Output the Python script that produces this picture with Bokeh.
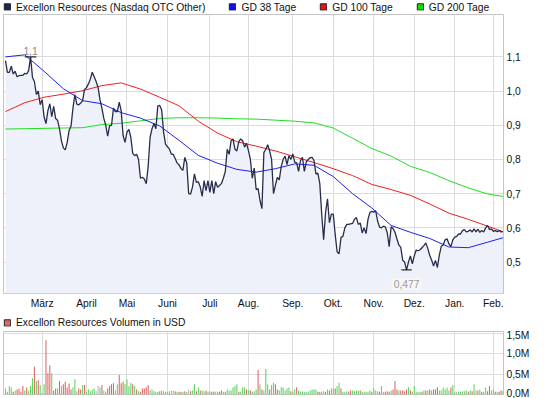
import numpy as np
import pandas as pd
from bokeh.plotting import figure
from bokeh.layouts import column
from bokeh.models import (Range1d, FixedTicker, Legend, LegendItem, Label,
                          CustomJSTickFormatter, Grid)
from bokeh.embed import file_html
from bokeh.resources import INLINE

# ---------------- data ----------------
start_date = "2011-02-01"
end_date = "2012-02-08"
holidays = ["2011-02-21", "2011-05-30", "2011-07-04", "2011-09-05",
            "2011-11-24", "2011-12-26", "2012-01-02", "2012-01-16"]

price = [
    1.089, 1.055, 1.055, 1.073, 1.050, 1.058, 1.042, 1.045, 1.046, 1.046,
    1.052, 1.050, 1.060, 1.100, 1.040, 1.028, 0.990, 1.000, 0.960, 0.975,
    0.925, 0.905, 0.943, 0.963, 0.925, 0.955, 0.920, 0.915, 0.890, 0.855,
    0.834, 0.828, 0.850, 0.885, 0.898, 0.950, 0.990, 0.962, 0.960, 0.965,
    0.972, 1.005, 1.010, 1.021, 1.035, 1.055, 1.042, 1.028, 1.011, 0.975,
    0.950, 0.920, 0.900, 0.868, 0.899, 0.900, 0.950, 0.940, 0.940, 0.968,
    0.942, 0.870, 0.850, 0.880, 0.888, 0.865, 0.818, 0.811, 0.815, 0.800,
    0.745, 0.748, 0.743, 0.729, 0.780, 0.865, 0.890, 0.905, 0.890, 0.957,
    0.958, 0.945, 0.880, 0.845, 0.837, 0.831, 0.816, 0.815, 0.803, 0.790,
    0.784, 0.774, 0.768, 0.806, 0.790, 0.700, 0.699, 0.720, 0.758, 0.733,
    0.735, 0.720, 0.692, 0.738, 0.709, 0.738, 0.704, 0.738, 0.700, 0.735,
    0.719, 0.724, 0.730, 0.745, 0.765, 0.830, 0.815, 0.855, 0.860, 0.830,
    0.825, 0.852, 0.860, 0.855, 0.836, 0.848, 0.826, 0.800, 0.745, 0.775,
    0.712, 0.715, 0.680, 0.656, 0.820, 0.830, 0.843, 0.825, 0.800, 0.700,
    0.725, 0.748, 0.740, 0.780, 0.800, 0.810, 0.785, 0.811, 0.800, 0.816,
    0.792, 0.790, 0.765, 0.797, 0.806, 0.765, 0.793, 0.800, 0.805, 0.806,
    0.797, 0.758, 0.760, 0.730, 0.640, 0.565, 0.645, 0.685, 0.615, 0.640,
    0.640, 0.580, 0.530, 0.524, 0.572, 0.575, 0.600, 0.610, 0.610, 0.612,
    0.613, 0.625, 0.630, 0.610, 0.614, 0.585, 0.600, 0.583, 0.625, 0.645,
    0.648, 0.646, 0.650, 0.620, 0.602, 0.600, 0.605, 0.603, 0.585, 0.545,
    0.603, 0.598, 0.587, 0.568, 0.550, 0.543, 0.505, 0.500, 0.477, 0.500,
    0.518, 0.495, 0.518, 0.535, 0.533, 0.536, 0.542, 0.548, 0.556, 0.540,
    0.520, 0.506, 0.488, 0.505, 0.484, 0.520, 0.546, 0.550, 0.565, 0.568,
    0.553, 0.545, 0.565, 0.573, 0.575, 0.582, 0.582, 0.592, 0.595, 0.588,
    0.590, 0.594, 0.588, 0.597, 0.588, 0.596, 0.587, 0.592, 0.588, 0.600,
    0.607, 0.595, 0.597, 0.590, 0.592, 0.589, 0.592, 0.588, 0.589,
]

# moving averages, one value every ma_step trading days (plus the last day)
ma_step = 10
gd38 = [1.100, 1.106, 1.058, 1.007, 0.972, 0.963, 0.937, 0.921, 0.898, 0.856,
        0.812, 0.789, 0.771, 0.763, 0.773, 0.787, 0.783, 0.750, 0.700, 0.658,
        0.607, 0.587, 0.569, 0.544, 0.542, 0.558, 0.571]
gd100 = [0.940, 0.966, 0.982, 0.991, 1.001, 1.016, 1.024, 1.006, 0.982, 0.957,
         0.912, 0.877, 0.852, 0.839, 0.825, 0.808, 0.791, 0.773, 0.753, 0.727,
         0.712, 0.695, 0.670, 0.643, 0.625, 0.605, 0.589]
gd200 = [0.889, 0.890, 0.891, 0.892, 0.893, 0.902, 0.906, 0.913, 0.920, 0.922,
         0.922, 0.921, 0.919, 0.918, 0.915, 0.912, 0.907, 0.892, 0.862, 0.832,
         0.810, 0.780, 0.762, 0.738, 0.717, 0.699, 0.692]

# daily volume in million USD and day direction (1 up, -1 down, 0 unchanged)
volume_musd = [
    0.15, 0.07, 0.21, 0.17, 0.07, 0.10, 0.12, 0.14, 0.07, 0.21, 0.10, 0.17, 0.08,
    0.21, 0.40, 0.68, 0.33, 0.35, 0.23, 0.04, 0.25, 1.33, 0.52, 0.71, 0.52, 0.10,
    0.15, 0.15, 0.33, 0.21, 0.25, 0.31, 0.17, 0.27, 0.12, 0.18, 0.375, 0.08, 0.15,
    0.12, 0.23, 0.23, 0.06, 0.125, 0.08, 0.125, 0.15, 0.08, 0.21, 0.17, 0.23, 0.10,
    0.07, 0.15, 0.21, 0.25, 0.275, 0.10, 0.25, 0.48, 0.275, 0.32, 0.25, 0.375, 0.20,
    0.29, 0.25, 0.21, 0.125, 0.08, 0.07, 0.15, 0.15, 0.18, 0.23, 0.10, 0.125, 0.08,
    0.07, 0.07, 0.08, 0.10, 0.08, 0.07, 0.07, 0.08, 0.10, 0.10, 0.08, 0.07, 0.06,
    0.07, 0.07, 0.08, 0.07, 0.125, 0.08, 0.10, 0.25, 0.08, 0.17, 0.10, 0.10, 0.08,
    0.10, 0.07, 0.08, 0.07, 0.07, 0.07, 0.07, 0.07, 0.10, 0.07, 0.07, 0.125, 0.10,
    0.10, 0.17, 0.21, 0.25, 0.07, 0.07, 0.17, 0.17, 0.125, 0.10, 0.10, 0.07, 0.08,
    0.125, 0.60, 0.25, 0.125, 0.10, 0.625, 0.25, 0.125, 0.23, 0.29, 0.25, 0.125, 0.10,
    0.18, 0.17, 0.10, 0.15, 0.17, 0.08, 0.07, 0.125, 0.18, 0.10, 0.07, 0.08, 0.07,
    0.07, 0.07, 0.10, 0.125, 0.125, 0.125, 0.07, 0.07, 0.07, 0.08, 0.07, 0.125, 0.10,
    0.15, 0.15, 0.15, 0.21, 0.29, 0.15, 0.07, 0.07, 0.08, 0.07, 0.10, 0.10, 0.08,
    0.10, 0.10, 0.10, 0.07, 0.07, 0.07, 0.07, 0.10, 0.07, 0.15, 0.10, 0.08, 0.07,
    0.21, 0.07, 0.07, 0.08, 0.07, 0.10, 0.125, 0.33, 0.125, 0.10, 0.10, 0.10, 0.08,
    0.125, 0.18, 0.10, 0.07, 0.21, 0.07, 0.07, 0.07, 0.07, 0.10, 0.10, 0.10,
    0.125, 0.10, 0.125, 0.125, 0.18, 0.10, 0.10, 0.17, 0.125, 0.17, 0.10, 0.17,
    0.23, 0.07, 0.07, 0.07, 0.07, 0.08, 0.08, 0.10, 0.07, 0.10, 0.08, 0.25,
    0.10, 0.10, 0.125, 0.07, 0.07, 0.17, 0.08, 0.21, 0.10, 0.125, 0.07, 0.07, 0.07, 0.10,
    0.08,
]
direction = [
    1, 1, 1, 1, -1, 1, -1, -1, -1, -1, 1, -1, 1,
    1, 1, -1, 1, -1, 1, 1, 1, -1, -1, -1, 1, -1,
    -1, 1, -1, 1, -1, -1, -1, -1, -1, 1, 1, 1, -1,
    -1, 1, -1, 1, 1, 1, 1, 1, 0, 0, 1, -1, 1,
    1, -1, -1, -1, -1, 1, 1, -1, -1, -1, 1, 1, 1,
    1, -1, 1, -1, 1, -1, -1, -1, -1, -1, 1, 1, 1,
    1, 1, -1, 1, 1, 1, 1, 1, 0, 0, -1, 1, -1,
    -1, 1, -1, 1, 0, -1, 1, 1, -1, 1, -1, 1, 1,
    -1, 1, 1, -1, -1, 1, 1, -1, -1, 1, -1, 1, 1,
    1, 1, 1, 1, -1, 1, 1, 1, -1, 1, -1, 1, 1,
    1, -1, 1, -1, 1, 1, 1, -1, 1, 1, -1, -1, 1,
    1, 1, 1, 1, 1, -1, 1, 1, -1, 1, 1, 1, 1,
    1, 1, 1, 1, 1, 1, -1, -1, 1, 1, -1, 1, -1,
    1, 1, -1, 1, 1, -1, 1, 1, 1, -1, -1, 1, 1,
    1, 1, -1, 1, 1, 1, 1, 1, -1, 1, 1, 1, -1,
    1, 1, -1, -1, -1, 1, -1, -1, -1, 1, -1, -1, -1,
    -1, 1, -1, 1, 1, 1, 1, 1, -1, 1, -1, 1,
    -1, 1, -1, -1, -1, 1, 1, 1, 1, 1, 1, -1,
    1, 1, 0, 1, 1, 1, 1, 1, -1, 1, -1, 1,
    1, -1, 1, -1, 1, 1, -1, -1, 1, 1, -1, 1, -1, -1,
    1,
]

month_labels = ["März", "April", "Mai", "Juni", "Juli", "Aug.", "Sep.",
                "Okt.", "Nov.", "Dez.", "Jan.", "Feb."]
price_ticks = [0.5, 0.6, 0.7, 0.8, 0.9, 1.0, 1.1]
volume_ticks = [0.0, 0.5, 1.0, 1.5]

series_name = "Excellon Resources (Nasdaq OTC Other)"
ma_names = ["GD 38 Tage", "GD 100 Tage", "GD 200 Tage"]
volume_name = "Excellon Resources Volumen in USD"

# ---------------- derived ----------------
dates = pd.bdate_range(start_date, end_date, freq="C", holidays=holidays)
n = len(price)
idx = np.arange(n)
months = dates.to_period("M")
month_ticks = [i for i in range(1, len(dates)) if months[i] != months[i - 1]]
ma_x = list(range(0, n, ma_step))
if ma_x[-1] != n - 1:
    ma_x.append(n - 1)
vol = volume_musd[:n]
dirs = direction[:n]
bar_colors = [{1: "#5cd65c", -1: "#e06464", 0: "#b4b4b4"}[d] for d in dirs]

FONT = "Liberation Sans"
FS = "10.3px"
GRID = "#dcdcdc"
OUTLINE = "#c4c4c4"
W = 545

x_range = Range1d(-1.03, n - 0.72)
y_low, y_high = 0.408, 1.224


def style_axis(ax, standoff):
    ax.axis_line_color = None
    ax.major_tick_line_color = None
    ax.minor_tick_line_color = None
    ax.major_tick_out = 0
    ax.major_tick_in = 0
    ax.minor_tick_out = 0
    ax.minor_tick_in = 0
    ax.major_label_standoff = standoff
    ax.major_label_text_font = FONT
    ax.major_label_text_font_size = FS
    ax.major_label_text_color = "#111111"


def legend_strip(labels, colors, height):
    """A thin figure that only holds a horizontal legend of colored squares."""
    f = figure(width=W, height=height, x_range=Range1d(0, 1), y_range=Range1d(0, 1),
               x_axis_location=None, y_axis_location=None, min_border=0,
               min_border_left=3, output_backend="svg", toolbar_location=None)
    f.outline_line_color = None
    f.grid.grid_line_color = None
    items = []
    for lab, col in zip(labels, colors):
        # legend swatch renderer, kept outside the visible ranges
        r = f.rect(x=[-5], y=[-5], width=1, height=1, fill_color=col,
                   line_color="#222222")
        items.append(LegendItem(label=lab, renderers=[r]))
    leg = Legend(items=items, orientation="horizontal", location="center_left",
                 margin=0, padding=0, spacing=23, glyph_width=8, glyph_height=8,
                 label_standoff=5, label_height=8, label_width=0,
                 border_line_color=None, background_fill_alpha=0,
                 label_text_font=FONT, label_text_font_size=FS,
                 label_text_color="#111111")
    f.add_layout(leg)
    return f


# ---------------- legend strip (price) ----------------
leg1 = legend_strip([series_name] + ma_names,
                    ["#1c2752", "#1010ee", "#ee1010", "#10dd10"], 13)

# ---------------- price figure ----------------
p = figure(width=W, height=302, x_range=x_range, y_range=Range1d(y_low, y_high),
           output_backend="svg", toolbar_location=None, y_axis_location="right",
           min_border_left=2, min_border_right=42, min_border_top=1,
           min_border_bottom=22)
p.outline_line_color = OUTLINE

p.xaxis.ticker = FixedTicker(ticks=month_ticks)
p.xaxis.major_label_overrides = {t: lab for t, lab in zip(month_ticks, month_labels)}
p.yaxis.ticker = FixedTicker(ticks=price_ticks)
p.yaxis.formatter = CustomJSTickFormatter(code="return tick.toFixed(1).replace('.', ',');")
style_axis(p.xaxis[0], 4)
style_axis(p.yaxis[0], 3)
p.grid.grid_line_color = GRID

p.varea(x=idx, y1=price, y2=y_low, fill_color="#eef1f9")
p.line(ma_x, gd200, line_color="#22dd22", line_width=1)
p.line(ma_x, gd100, line_color="#ee2020", line_width=1)
p.line(ma_x, gd38, line_color="#2020ee", line_width=1)
p.line(idx, price, line_color="#262e4c", line_width=1.3)

hi_i = int(np.argmax(price))
lo_i = int(np.argmin(price))
p.segment(x0=[hi_i - 3, lo_i - 2.7], y0=[price[hi_i], price[lo_i]],
          x1=[hi_i + 3, lo_i + 2.7], y1=[price[hi_i], price[lo_i]],
          line_color="black", line_width=1)


def fmt(v):
    return f"{v:g}".replace(".", ",")


p.add_layout(Label(x=hi_i, y=price[hi_i], text=fmt(price[hi_i]), text_align="center",
                   text_baseline="bottom", y_offset=2, text_color="#8a8a8a",
                   text_font=FONT, text_font_size=FS))
p.add_layout(Label(x=lo_i, y=price[lo_i], text=fmt(price[lo_i]), text_align="center",
                   text_baseline="top", y_offset=-8, text_color="#9a9a9a",
                   text_font=FONT, text_font_size=FS,
                   background_fill_color="#f6f6f6", background_fill_alpha=0.9,
                   padding=2))

# ---------------- legend strip (volume) ----------------
leg2 = legend_strip([volume_name], ["#e06666"], 14)

# ---------------- volume figure ----------------
p2 = figure(width=W, height=69, x_range=x_range, y_range=Range1d(0, 1.544),
            output_backend="svg", toolbar_location=None, y_axis_location="right",
            x_axis_location=None, min_border_left=2, min_border_right=42,
            min_border_top=2, min_border_bottom=4)
p2.outline_line_color = OUTLINE
p2.yaxis.ticker = FixedTicker(ticks=volume_ticks)
p2.yaxis.formatter = CustomJSTickFormatter(
    code="return tick.toFixed(1).replace('.', ',') + 'M';")
style_axis(p2.yaxis[0], 3)
p2.ygrid.grid_line_color = GRID
if len(p2.xgrid) == 0:
    p2.add_layout(Grid(dimension=0, ticker=FixedTicker(ticks=month_ticks),
                       grid_line_color=GRID))
else:
    p2.xgrid.ticker = FixedTicker(ticks=month_ticks)
    p2.xgrid.grid_line_color = GRID

p2.vbar(x=idx, top=vol, width=0.55, fill_color=bar_colors, line_color=None)

layout = column(leg1, p, leg2, p2, spacing=0)
open("out.html", "w").write(file_html(layout, INLINE))
